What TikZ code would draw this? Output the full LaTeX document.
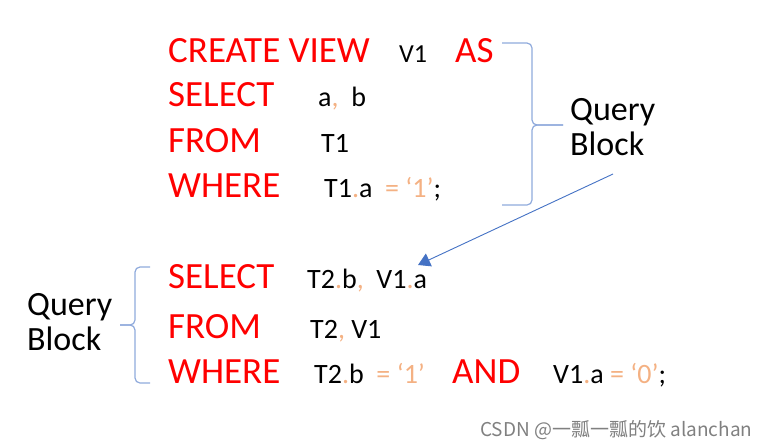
\documentclass[tikz,border=0pt]{standalone}
\usepackage{fontspec}
\usetikzlibrary{arrows.meta}
\setmainfont{Carlito}
\newfontfamily\cjk{Noto Sans CJK SC}
\definecolor{sqlred}{HTML}{FF0000}
\definecolor{sqlorange}{HTML}{F4B183}
\definecolor{bracecol}{HTML}{8FAADC}
\definecolor{arrowcol}{HTML}{4472C4}
\newcommand\og[1]{\textcolor{sqlorange}{#1}}
\begin{document}
\begin{tikzpicture}[x=1pt,y=-1pt,
    kw/.style={anchor=base west,inner sep=0pt,text=sqlred,font=\fontsize{37}{37}\selectfont},
    val/.style={anchor=base west,inner sep=0pt,font=\fontsize{28}{28}\selectfont},
    label/.style={anchor=base west,inner sep=0pt,align=left,font=\fontsize{34}{35}\selectfont},
    brace/.style={draw=bracecol,line width=1.2pt,rounded corners=5pt},
    link/.style={draw=arrowcol,line width=0.9pt,-{Triangle[length=12pt,width=14pt]}}]
  \useasboundingbox (0,0) rectangle (773,447);
  % 视图定义
  \node[kw] (create) at (168,62) {CREATE VIEW};
  \node[val,font=\fontsize{26}{26}\selectfont] (vname) at (399,62) {V1};
  \node[kw] (as) at (455,62) {AS};
  \node[kw] (sel1) at (168,106) {SELECT};
  \node[val] (cols1) at (318,106) {a\og{,}\ \ b};
  \node[kw] (from1) at (168,152) {FROM};
  \node[val] (tab1) at (321,152) {T1};
  \node[kw] (where1) at (168,197) {WHERE};
  \node[val] (cond1) at (324,197) {T1\og{.}a\ \ \og{= ‘1’};};

  % 外层查询
  \node[kw] (sel2) at (168,288) {SELECT};
  \node[val] (cols2) at (307,288) {T2\og{.}b\og{,}\ \ V1\og{.}a};
  \node[kw] (from2) at (168,338) {FROM};
  \node[val] (tab2) at (310,338) {T2\og{,}\ V1};
  \node[kw] (where2) at (168,383) {WHERE};
  \node[val] (cond2a) at (314,383) {T2\og{.}b\ \ \og{= ‘1’}};
  \node[kw] (and) at (452,383) {AND};
  \node[val] (cond2b) at (553,383) {V1\og{.}a \og{= ‘0’};};

  % 花括号
  \draw[brace] (502,43) -- (532,43) -- (532,125) -- (563,125);
  \draw[brace] (563,125) -- (532,125) -- (532,205) -- (502,205);
  \draw[brace] (150,267) -- (135,267) -- (135,325) -- (120,325);
  \draw[brace] (120,325) -- (135,325) -- (135,383) -- (150,383);

  % 标签
  \node[label] (qb1) at (570,155) {Query\\Block};
  \node[label] (qb2) at (27,350) {Query\\Block};

  % 箭头
  \coordinate (from) at (613,174);
  \coordinate (to) at (418,265);
  \draw[link] (from) -- (to);

  % 水印
  \node[anchor=base west,inner sep=0pt,text=black!50,font=\cjk\fontsize{19}{19}\selectfont] (mark) at (480,436) {CSDN @一瓢一瓢的饮 alanchan};
\end{tikzpicture}
\end{document}
